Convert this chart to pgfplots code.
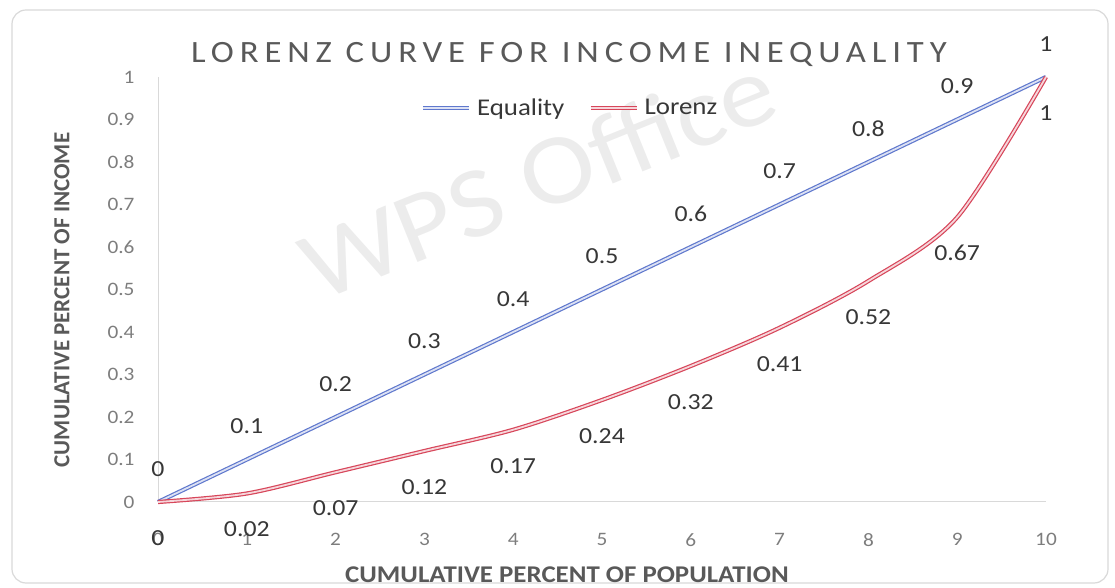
\documentclass[border=0pt]{standalone}
\usepackage{fontspec}
\setmainfont{Carlito}[FakeStretch=1.12]
\newfontfamily\vfont{Carlito}
\newfontfamily\titlefont{Carlito}[FakeStretch=1.12, LetterSpace=19]
\usepackage{pgfplots}
\pgfplotsset{compat=1.18}
\definecolor{eqc}{RGB}{95,120,205}
\definecolor{lzc}{RGB}{215,70,90}
\definecolor{tickc}{RGB}{125,125,125}
\definecolor{labc}{RGB}{89,89,89}
\definecolor{txtc}{RGB}{55,55,55}
\begin{document}
\begin{tikzpicture}[x=1pt,y=1pt]
\useasboundingbox (-158,-86) rectangle (957,502);
\draw[gray!30, line width=1.2pt, rounded corners=14pt] (-146,-81) rectangle (950,492);
\node[rotate=22, text=gray!15, font=\fontsize{100}{100}\selectfont] at (380,325) {WPS Office};
\begin{axis}[at={(0,0)}, anchor=south west, scale only axis,
  width=888pt, height=425pt,
  xmin=0, xmax=10, ymin=0, ymax=1,
  clip=false,
  axis x line*=bottom, axis y line*=left,
  axis line style={draw=gray!30, line width=1pt, -},
  major tick length=0pt,
  xtick={0,1,2,3,4,5,6,7,8,9,10},
  ytick={0,0.1,0.2,0.3,0.4,0.5,0.6,0.7,0.8,0.9,1},
  /pgf/number format/.cd, fixed, precision=2, assume math mode=true, /pgfplots/.cd,
  ticklabel style={font=\fontsize{19}{19}\selectfont, text=tickc},
  yticklabel style={xshift=-20pt},
  xticklabel style={yshift=-28pt},
  legend columns=2,
  legend style={at={(0.464,0.927)}, anchor=center, draw=none, fill=none,
    font=\fontsize{24}{24}\selectfont, text=txtc,
    /tikz/every odd column/.append style={column sep=4pt},
    /tikz/every even column/.append style={column sep=22pt}},
  legend image code/.code={\draw[#1] (0pt,0pt) -- (46pt,0pt);},
  nodes near coords={\pgfmathprintnumber[fixed,precision=2]{\pgfplotspointmeta}},
  every node near coord/.append style={font=\fontsize{23}{23}\selectfont, text=txtc, anchor=center},
]
\addplot[draw=eqc, double=eqc!22, double distance=1.8pt, line width=1.2pt,
  every node near coord/.append style={yshift=33pt}]
  coordinates {(0,0) (1,0.1) (2,0.2) (3,0.3) (4,0.4) (5,0.5) (6,0.6) (7,0.7) (8,0.8) (9,0.9) (10,1)};
\addlegendentry{Equality}
\addplot[draw=lzc, double=lzc!22, double distance=1.8pt, line width=1.2pt, smooth, tension=0.5,
  every node near coord/.append style={yshift=-36pt}]
  coordinates {(0,0) (1,0.02) (2,0.07) (3,0.12) (4,0.17) (5,0.24) (6,0.32) (7,0.41) (8,0.52) (9,0.67) (10,1)};
\addlegendentry{Lorenz}
\end{axis}
\node[text=labc, font=\titlefont\fontsize{31}{31}\selectfont] at (411,447) {LORENZ CURVE FOR INCOME INEQUALITY};
\node[text=labc, font=\bfseries\fontsize{24}{24}\selectfont] at (409,-73) {CUMULATIVE PERCENT OF POPULATION};
\node[rotate=90, text=labc, font=\vfont\bfseries\fontsize{23}{23}\selectfont] at (-96,202) {CUMULATIVE PERCENT OF INCOME};
\end{tikzpicture}
\end{document}
